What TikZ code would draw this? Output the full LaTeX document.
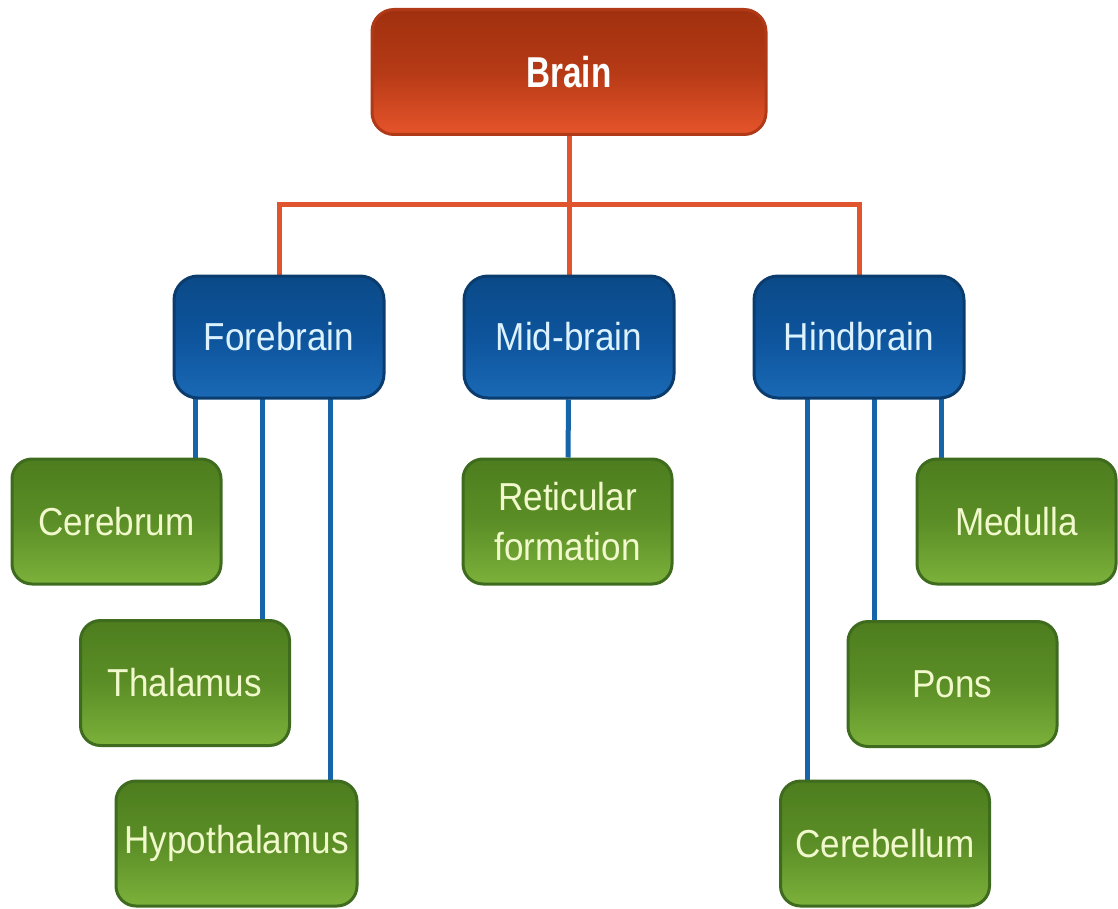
\documentclass[tikz,border=0pt]{standalone}
\usepackage{fontspec}
\setmainfont{Liberation Sans}[FakeStretch=0.9]
\newfontfamily\headfont{Liberation Sans}[FakeStretch=0.77]
\usepackage{tikz}
\usetikzlibrary{positioning, backgrounds}
\definecolor{redtop}{HTML}{A0300E}
\definecolor{redmid}{HTML}{B63A16}
\definecolor{redbot}{HTML}{E6542B}
\definecolor{rededge}{HTML}{B03A18}
\definecolor{bluetop}{HTML}{0B4A88}
\definecolor{bluemid}{HTML}{0D549C}
\definecolor{bluebot}{HTML}{1A69B5}
\definecolor{blueedge}{HTML}{0B3C6E}
\definecolor{greentop}{HTML}{4D7D1E}
\definecolor{greenmid}{HTML}{5B8E26}
\definecolor{greenbot}{HTML}{7CB13B}
\definecolor{greenedge}{HTML}{3F6B1F}
\definecolor{redwire}{HTML}{E0552E}
\definecolor{bluewire}{HTML}{1565A8}
\tikzstyle{head}=[draw=rededge, line width=1.5pt, rounded corners=11pt, top color=redtop, bottom color=redbot, middle color=redmid, minimum width=197pt, minimum height=62.5pt, text=white, font=\headfont\bfseries\fontsize{21.6}{24}\selectfont]
\tikzstyle{part}=[draw=blueedge, line width=1.5pt, rounded corners=12pt, top color=bluetop, bottom color=bluebot, middle color=bluemid, minimum width=105pt, minimum height=61pt, text={rgb,255:red,220;green,242;blue,255}, font=\fontsize{19.5}{25}\selectfont]
\tikzstyle{leaf}=[draw=greenedge, line width=1.5pt, rounded corners=10pt, top color=greentop, bottom color=greenbot, middle color=greenmid, minimum width=104.5pt, minimum height=62.5pt, inner xsep=2pt, align=center, text={rgb,255:red,240;green,248;blue,204}, font=\fontsize{19.5}{25}\selectfont]
\tikzstyle{redline}=[draw=redwire, line width=2.5pt]
\tikzstyle{blueline}=[draw=bluewire, line width=2.5pt]

\begin{document}
\begin{tikzpicture}[x=0.5pt,y=-0.5pt,node distance=145pt]
  \useasboundingbox (0,0) rectangle (1118,909);
  \node [head] (brain) at (569,72) {Brain};
  \node [part] (mid) [below of=brain, node distance=132.5pt] {Mid-brain};
  \node [part] (fore) [left of=mid] {Forebrain};
  \node [part] (hind) [right of=mid] {Hindbrain};
  \node [leaf] (cer) at (116.5,521.5) {Cerebrum};
  \node [leaf] (thal) at (185,683) {Thalamus};
  \node [leaf, minimum width=120.5pt] (hypo) at (236.5,843.5) {Hypothalamus};
  \node [leaf] (ret) at (567.5,521.5) {Reticular\\formation};
  \node [leaf, minimum width=99.5pt] (med) at (1016.5,521.5) {Medulla};
  \node [leaf] (pons) at (952.5,684) {Pons};
  \node [leaf] (cbl) at (885,843.5) {Cerebellum};
  \begin{scope}[on background layer]
    \draw[redline] (brain) -- (mid);
    \draw[redline] (fore.north) -- ++(0,-70) -| (hind.north);
    \draw[blueline] (mid) -- (ret);
    \foreach \x/\n in {195/cer, 262/thal, 330/hypo}
      \draw[blueline] (\x,0 |- fore.center) -- (\x,0 |- \n.center);
    \foreach \x/\n in {807/cbl, 874/pons, 941/med}
      \draw[blueline] (\x,0 |- hind.center) -- (\x,0 |- \n.center);
  \end{scope}
\end{tikzpicture}
\end{document}
